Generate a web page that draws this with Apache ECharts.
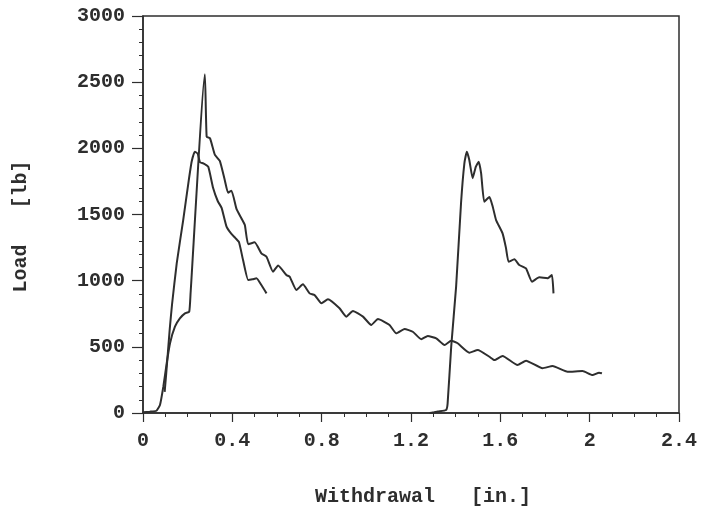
<!DOCTYPE html>
<html>
<head>
<meta charset="utf-8">
<script src="https://cdn.jsdelivr.net/npm/echarts@6/dist/echarts.min.js"></script>
<style>
  html, body { margin: 0; padding: 0; background: #fff; }
  #chart { width: 702px; height: 516px; }
</style>
</head>
<body>
<div id="chart"></div>
<script>
// Withdrawal [in.] and load [lb] for the three recorded pull-out runs.
var runAx = [0.097, 0.104, 0.112, 0.120, 0.130, 0.151, 0.180, 0.203, 0.218, 0.232, 0.245, 0.255,
  0.270, 0.292, 0.314, 0.335, 0.352, 0.374, 0.395, 0.415, 0.430, 0.448, 0.471, 0.490,
  0.508, 0.530, 0.553];
var runAy = [160, 300, 470, 640, 820, 1131, 1458, 1736, 1900, 1975, 1960, 1895,
  1887, 1861, 1700, 1600, 1550, 1408, 1355, 1320, 1290, 1156, 1005, 1010,
  1018, 967, 904];

var runBx = [0, 0.03, 0.06, 0.076, 0.091, 0.106, 0.121, 0.143, 0.165, 0.188, 0.207, 0.213,
  0.277, 0.285, 0.300, 0.322, 0.344, 0.366, 0.381, 0.396, 0.419, 0.441, 0.456, 0.471,
  0.500, 0.530, 0.553, 0.582, 0.605, 0.642, 0.657, 0.687, 0.716, 0.746, 0.768, 0.799,
  0.828, 0.880, 0.910, 0.940, 0.985, 1.022, 1.052, 1.104, 1.134, 1.171, 1.208, 1.246,
  1.275, 1.313, 1.350, 1.380, 1.409, 1.461, 1.499, 1.551, 1.573, 1.610, 1.677, 1.715,
  1.789, 1.834, 1.901, 1.968, 2.013, 2.042, 2.055];
var runBy = [5, 10, 17, 60, 199, 375, 527, 652, 715, 753, 766, 904,
  2560, 2088, 2076, 1950, 1905, 1761, 1665, 1680, 1540, 1470, 1420, 1275,
  1290, 1206, 1181, 1068, 1115, 1043, 1030, 929, 972, 904, 892, 829,
  859, 791, 728, 771, 728, 665, 710, 665, 602, 635, 614, 557,
  582, 564, 514, 546, 527, 456, 476, 425, 400, 431, 363, 395,
  338, 355, 312, 317, 287, 305, 300];

var runCx = [1.283, 1.297, 1.320, 1.357, 1.364, 1.380, 1.402, 1.424, 1.439, 1.450, 1.461,
  1.476, 1.490, 1.503, 1.514, 1.528, 1.551, 1.566, 1.581, 1.610, 1.625, 1.637, 1.663,
  1.685, 1.715, 1.742, 1.774, 1.811, 1.831, 1.838];
var runCy = [0, 3, 12, 23, 73, 501, 955, 1585, 1887, 1975, 1912,
  1774, 1860, 1899, 1811, 1597, 1632, 1559, 1458, 1358, 1250, 1143, 1161,
  1118, 1093, 992, 1025, 1018, 1043, 904];

var xTickLabels = ['0', '0.4', '0.8', '1.2', '1.6', '2', '2.4'];
var yTickLabels = ['0', '500', '1000', '1500', '2000', '2500', '3000'];

function pairs(xs, ys) {
  return xs.map(function (x, i) { return [x, ys[i]]; });
}

var ink = '#2e2e2e';
var mono = "'Liberation Mono', 'Courier New', monospace";

var chart = echarts.init(document.getElementById('chart'), null, { renderer: 'canvas' });

function runSeries(xs, ys) {
  return {
    type: 'line',
    data: pairs(xs, ys),
    showSymbol: false,
    smooth: 0.15,
    lineStyle: { color: ink, width: 2 },
    silent: true,
    animation: false
  };
}

chart.setOption({
  backgroundColor: '#fff',
  animation: false,
  grid: {
    left: 143, right: 23, top: 16, bottom: 103,
    show: true, borderColor: ink, borderWidth: 1.5, backgroundColor: 'transparent'
  },
  xAxis: {
    type: 'value',
    min: 0, max: 2.4, interval: 0.4,
    name: 'Withdrawal   [in.]',
    nameLocation: 'middle',
    nameGap: 74,
    nameTextStyle: { fontFamily: mono, fontWeight: 'bold', fontSize: 20, color: ink, padding: [0, 0, 0, 24] },
    axisLine: { show: true, onZero: false, lineStyle: { color: ink, width: 1.5 } },
    axisTick: { show: true, length: 9, lineStyle: { color: ink, width: 1.2 } },
    minorTick: { show: true, splitNumber: 4, length: 4, lineStyle: { color: ink, width: 1 } },
    splitLine: { show: false },
    axisLabel: {
      margin: 18,
      fontFamily: mono, fontWeight: 'bold', fontSize: 20, color: ink,
      formatter: function (v) { return xTickLabels[Math.round(v / 0.4)]; }
    }
  },
  yAxis: {
    type: 'value',
    min: 0, max: 3000, interval: 500,
    name: 'Load   [lb]',
    nameLocation: 'middle',
    nameGap: 112,
    nameRotate: 90,
    nameTextStyle: { fontFamily: mono, fontWeight: 'bold', fontSize: 20, color: ink, padding: [0, 24, 0, 0] },
    axisLine: { show: true, onZero: false, lineStyle: { color: ink, width: 1.5 } },
    axisTick: { show: true, length: 11, lineStyle: { color: ink, width: 1.2 } },
    minorTick: { show: true, splitNumber: 5, length: 4, lineStyle: { color: ink, width: 1 } },
    splitLine: { show: false },
    axisLabel: {
      margin: 18,
      fontFamily: mono, fontWeight: 'bold', fontSize: 20, color: ink,
      formatter: function (v) { return yTickLabels[Math.round(v / 500)]; }
    }
  },
  series: [
    runSeries(runAx, runAy),
    runSeries(runBx, runBy),
    runSeries(runCx, runCy)
  ]
});
</script>
</body>
</html>
